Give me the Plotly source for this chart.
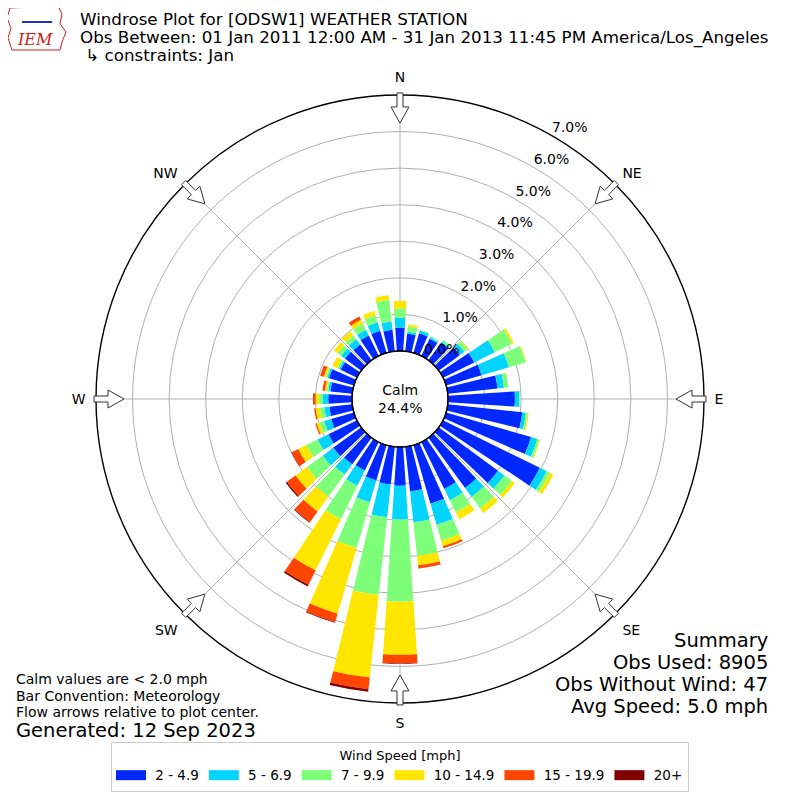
import math
import plotly.graph_objects as go

# wind direction bins (degrees, meteorological), 10 degree sectors
directions = list(range(0, 360, 10))

speed_bins = ["2 - 4.9", "5 - 6.9", "7 - 9.9", "10 - 14.9", "15 - 19.9", "20+"]
bin_colors = ["#0028ff", "#00d4ff", "#7dff7a", "#ffe600", "#ff4500", "#800000"]

# percent of observations per direction for each speed bin
pct_2_5 = [0.64, 0.48, 0.56, 0.52, 0.60, 0.72, 0.95, 1.01, 1.37, 1.83, 2.05, 2.42,
           2.95, 2.01, 1.70, 1.43, 1.67, 1.23, 1.06, 1.04, 1.00, 0.87, 0.90, 0.95,
           0.87, 0.65, 0.63, 0.65, 0.60, 0.71, 0.50, 0.55, 0.53, 0.62, 0.63, 0.59]
pct_5_7 = [0.27, 0.06, 0.08, 0.05, 0.04, 0.15, 0.63, 0.78, 0.18, 0.12, 0.10, 0.18,
           0.21, 0.22, 0.30, 0.34, 0.60, 0.85, 0.92, 0.90, 0.63, 0.46, 0.35, 0.36,
           0.33, 0.20, 0.14, 0.15, 0.06, 0.05, 0.05, 0.13, 0.18, 0.18, 0.24, 0.23]
pct_7_10 = [0.25, 0.14, 0.02, 0.03, 0.05, 0.11, 0.52, 0.48, 0.12, 0.02, 0.05, 0.06,
            0.10, 0.25, 0.40, 0.37, 0.45, 0.92, 2.25, 2.14, 1.30, 1.02, 0.75, 0.53,
            0.34, 0.13, 0.12, 0.10, 0.04, 0.04, 0.05, 0.12, 0.13, 0.18, 0.20, 0.60]
pct_10_15 = [0.21, 0.06, 0.00, 0.00, 0.00, 0.02, 0.06, 0.02, 0.00, 0.00, 0.03, 0.02,
             0.10, 0.10, 0.15, 0.21, 0.16, 0.26, 1.45, 2.27, 1.87, 1.56, 0.50, 0.39,
             0.25, 0.08, 0.12, 0.10, 0.05, 0.06, 0.15, 0.13, 0.14, 0.12, 0.13, 0.12]
pct_15_20 = [0.00, 0.00, 0.00, 0.00, 0.00, 0.00, 0.00, 0.00, 0.00, 0.00, 0.00, 0.00,
             0.00, 0.00, 0.00, 0.00, 0.06, 0.08, 0.23, 0.32, 0.24, 0.44, 0.36, 0.29,
             0.20, 0.04, 0.04, 0.07, 0.07, 0.10, 0.00, 0.00, 0.00, 0.10, 0.00, 0.00]
pct_20_up = [0.00, 0.00, 0.00, 0.00, 0.00, 0.00, 0.00, 0.00, 0.00, 0.00, 0.00, 0.00,
             0.00, 0.00, 0.00, 0.00, 0.00, 0.01, 0.02, 0.07, 0.02, 0.05, 0.02, 0.04,
             0.01, 0.00, 0.00, 0.00, 0.00, 0.00, 0.00, 0.00, 0.00, 0.00, 0.00, 0.00]

series = [pct_2_5, pct_5_7, pct_7_10, pct_10_15, pct_15_20, pct_20_up]

radial_ticks = [0, 1, 2, 3, 4, 5, 6, 7]
compass_angles = [0, 45, 90, 135, 180, 225, 270, 315]
compass_labels = ["N", "NE", "E", "SE", "S", "SW", "W", "NW"]

calm_pct = 24.4
obs_used = 8905
obs_no_wind = 47
avg_speed = 5.0

FONT = "DejaVu Sans, Liberation Sans, sans-serif"
OFF = 8            # page body margin
W = H = 800 - OFF
CX, CY, R = 400, 399, 304  # polar centre / radius in screen pixels


def px(x, y):
    # screen pixel -> paper coords
    return (x - OFF) / W, 1 - (y - OFF) / H


fig = go.Figure()

for name, color, vals in zip(speed_bins, bin_colors, series):
    fig.add_trace(go.Barpolar(
        r=vals, theta=directions, width=7.6, name=name, legendgroup=name,
        marker=dict(color=color, line=dict(width=0)),
        showlegend=False, hoverinfo="skip",
    ))

# legend entries drawn as wide colour swatches
for name, color in zip(speed_bins, bin_colors):
    fig.add_trace(go.Scatterpolar(
        r=[None], theta=[None], mode="lines", name="\u00a0" + name, legendgroup=name,
        line=dict(color=color, width=10), hoverinfo="skip",
    ))

# radial percent labels
fig.add_trace(go.Scatterpolar(
    r=radial_ticks, theta=[30] * len(radial_ticks),
    mode="text", text=["%.1f%%" % t for t in radial_ticks], textposition="top right",
    textfont=dict(family=FONT, size=14, color="black"),
    showlegend=False, cliponaxis=False, hoverinfo="skip",
))

# compass flow arrows (outlined, pointing to plot centre)
shapes = []
for a in compass_angles:
    ar = math.radians(a)
    ux, uy = math.sin(ar), -math.cos(ar)
    vx, vy = math.cos(ar), math.sin(ar)
    pts = [(306, -3), (292, -3), (292, -9), (276, 0), (292, 9), (292, 3), (306, 3)]
    path = ""
    for i, (u, v) in enumerate(pts):
        x, y = px(CX + u * ux + v * vx, CY + u * uy + v * vy)
        path += ("M" if i == 0 else "L") + " %.5f %.5f " % (x, y)
    shapes.append(dict(type="path", path=path + "Z", xref="paper", yref="paper",
                       fillcolor="white", line=dict(color="#333333", width=1),
                       layer="above"))

# calm circle outline
x0, y0 = px(CX - 48, CY + 48)
x1, y1 = px(CX + 48, CY - 48)
shapes.append(dict(type="circle", xref="paper", yref="paper", x0=x0, y0=y0, x1=x1, y1=y1,
                   line=dict(color="black", width=1.2), layer="above"))

# rough IEM logo outline
logo = [(10, 8), (58, 6), (62, 14), (60, 24), (66, 32), (62, 42), (60, 50), (12, 50), (8, 38), (11, 28), (7, 18)]
path = ""
for i, (x, y) in enumerate(logo):
    xx, yy = px(x, y)
    path += ("M" if i == 0 else "L") + " %.5f %.5f " % (xx, yy)
shapes.append(dict(type="path", path=path + "Z", xref="paper", yref="paper",
                   line=dict(color="#d02020", width=1)))
bx0, by0 = px(22, 22)
bx1, by1 = px(52, 22)
shapes.append(dict(type="line", xref="paper", yref="paper", x0=bx0, y0=by0, x1=bx1, y1=by1,
                   line=dict(color="#2030c0", width=2)))

annotations = []


def note(x, y, text, size, xanchor="left", color="black", family=FONT, **kw):
    xx, yy = px(x, y)
    annotations.append(dict(x=xx, y=yy, xref="paper", yref="paper", text=text,
                            showarrow=False, xanchor=xanchor, yanchor="middle",
                            font=dict(family=family, size=size, color=color), **kw))


note(35, 39, "<i>IEM</i>", 16, xanchor="center", color="#d02020",
     family="DejaVu Serif, Liberation Serif, serif")
note(78, 19, "Windrose Plot for [ODSW1] WEATHER STATION", 16.7)
note(78, 37, "Obs Between: 01 Jan 2011 12:00 AM - 31 Jan 2013 11:45 PM America/Los_Angeles", 16.7)
note(78, 55, " \u21b3 constraints: Jan", 16.7)

note(14, 679, "Calm values are < 2.0 mph", 14)
note(14, 696, "Bar Convention: Meteorology", 14)
note(14, 712, "Flow arrows relative to plot center.", 14)
note(14, 730, "Generated: 12 Sep 2023", 19.5)

note(770, 640, "Summary", 19.5, xanchor="right")
note(770, 662, "Obs Used: %d" % obs_used, 19.5, xanchor="right")
note(770, 684, "Obs Without Wind: %d" % obs_no_wind, 19.5, xanchor="right")
note(770, 706, "Avg Speed: %.1f mph" % avg_speed, 19.5, xanchor="right")

note(CX, CY, "Calm<br>%.1f%%" % calm_pct, 14, xanchor="center")

dx0, dy1 = px(CX - R, CY - R)
dx1, dy0 = px(CX + R, CY + R)

fig.update_layout(
    width=W, height=H,
    margin=dict(l=0, r=0, t=0, b=0),
    paper_bgcolor="white",
    font=dict(family=FONT, size=14, color="black"),
    polar=dict(
        domain=dict(x=[dx0, dx1], y=[dy0, dy1]),
        bgcolor="white",
        hole=48 / R,
        barmode="stack",
        radialaxis=dict(range=[0, 7], tickvals=radial_ticks[1:-1], showticklabels=False,
                        ticks="", showline=False, gridcolor="#b0b0b0", gridwidth=1),
        angularaxis=dict(rotation=90, direction="clockwise", tickvals=compass_angles,
                         ticktext=compass_labels, ticks="outside", ticklen=7,
                         tickcolor="rgba(0,0,0,0)", showline=True,
                         linecolor="black", linewidth=1.4, gridcolor="#b0b0b0",
                         tickfont=dict(family=FONT, size=14, color="black")),
    ),
    legend=dict(
        orientation="h", x=px(400, 0)[0], xanchor="center", y=px(0, 742)[1], yanchor="top",
        bordercolor="#cccccc", borderwidth=1, bgcolor="white",
        title=dict(text="Wind Speed [mph]", side="top center",
                   font=dict(family=FONT, size=13)),
        font=dict(family=FONT, size=13.5), itemwidth=30,
    ),
    shapes=shapes,
    annotations=annotations,
)

fig.write_html("out.html")
